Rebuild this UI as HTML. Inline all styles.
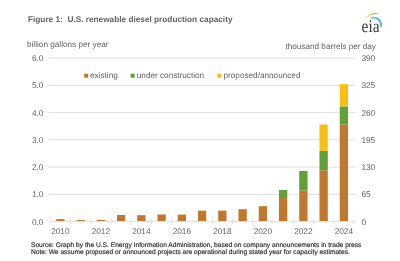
<!DOCTYPE html>
<html><head><meta charset="utf-8"><style>
html,body{margin:0;padding:0;background:#fff;width:400px;height:261px;overflow:hidden}
svg{display:block}
#w{will-change:transform;width:400px;height:261px}
text{font-family:"Liberation Sans",sans-serif;fill:#626262;text-rendering:geometricPrecision}
.n{font-size:8.3px}
.t{font-size:8.25px;font-weight:bold}
.a{font-size:8.2px}
.s{font-size:6.65px;fill:#333;stroke:#333;stroke-width:0.18px}
</style></head><body>
<div id="w"><svg width="400" height="261" viewBox="0 0 400 261" style="white-space:pre">
<rect width="400" height="261" fill="#fff"/>
<text x="28" y="21.7" class="t">Figure 1:&#160; U.S. renewable diesel production capacity</text>
<text x="27" y="47.2" class="a">billion gallons per year</text>
<text x="285.4" y="48.7" class="a">thousand barrels per day</text>
<line x1="48.3" y1="194.35" x2="355.5" y2="194.35" stroke="#DFDFDF" stroke-width="1"/>
<line x1="48.3" y1="167.10" x2="355.5" y2="167.10" stroke="#DFDFDF" stroke-width="1"/>
<line x1="48.3" y1="139.85" x2="355.5" y2="139.85" stroke="#DFDFDF" stroke-width="1"/>
<line x1="48.3" y1="112.60" x2="355.5" y2="112.60" stroke="#DFDFDF" stroke-width="1"/>
<line x1="48.3" y1="85.35" x2="355.5" y2="85.35" stroke="#DFDFDF" stroke-width="1"/>
<line x1="48.3" y1="58.10" x2="355.5" y2="58.10" stroke="#DFDFDF" stroke-width="1"/>
<rect x="56.23" y="219.10" width="8.3" height="2.20" fill="#C0772E"/>
<rect x="76.47" y="219.90" width="8.3" height="1.40" fill="#C0772E"/>
<rect x="96.72" y="219.90" width="8.3" height="1.40" fill="#C0772E"/>
<rect x="116.97" y="215.00" width="8.3" height="6.30" fill="#C0772E"/>
<rect x="137.22" y="215.20" width="8.3" height="6.10" fill="#C0772E"/>
<rect x="157.47" y="214.50" width="8.3" height="6.80" fill="#C0772E"/>
<rect x="177.72" y="214.60" width="8.3" height="6.70" fill="#C0772E"/>
<rect x="197.97" y="210.70" width="8.3" height="10.60" fill="#C0772E"/>
<rect x="218.22" y="210.60" width="8.3" height="10.70" fill="#C0772E"/>
<rect x="238.47" y="209.20" width="8.3" height="12.10" fill="#C0772E"/>
<rect x="258.73" y="206.20" width="8.3" height="15.10" fill="#C0772E"/>
<rect x="278.98" y="198.00" width="8.3" height="23.30" fill="#C0772E"/>
<rect x="278.98" y="190.00" width="8.3" height="8.00" fill="#60A037"/>
<rect x="299.23" y="190.50" width="8.3" height="30.80" fill="#C0772E"/>
<rect x="299.23" y="170.90" width="8.3" height="19.60" fill="#60A037"/>
<rect x="319.48" y="170.30" width="8.3" height="51.00" fill="#C0772E"/>
<rect x="319.48" y="151.00" width="8.3" height="19.30" fill="#60A037"/>
<rect x="319.48" y="124.50" width="8.3" height="26.50" fill="#F9C013"/>
<rect x="339.73" y="124.50" width="8.3" height="96.80" fill="#C0772E"/>
<rect x="339.73" y="106.40" width="8.3" height="18.10" fill="#60A037"/>
<rect x="339.73" y="84.20" width="8.3" height="22.20" fill="#F9C013"/>
<line x1="50.25" y1="221.6" x2="354.00" y2="221.6" stroke="#DFDFDF" stroke-width="1"/>
<line x1="50.25" y1="219.1" x2="50.25" y2="224.29999999999998" stroke="#DFDFDF" stroke-width="1"/>
<line x1="70.50" y1="219.1" x2="70.50" y2="224.29999999999998" stroke="#DFDFDF" stroke-width="1"/>
<line x1="90.75" y1="219.1" x2="90.75" y2="224.29999999999998" stroke="#DFDFDF" stroke-width="1"/>
<line x1="111.00" y1="219.1" x2="111.00" y2="224.29999999999998" stroke="#DFDFDF" stroke-width="1"/>
<line x1="131.25" y1="219.1" x2="131.25" y2="224.29999999999998" stroke="#DFDFDF" stroke-width="1"/>
<line x1="151.50" y1="219.1" x2="151.50" y2="224.29999999999998" stroke="#DFDFDF" stroke-width="1"/>
<line x1="171.75" y1="219.1" x2="171.75" y2="224.29999999999998" stroke="#DFDFDF" stroke-width="1"/>
<line x1="192.00" y1="219.1" x2="192.00" y2="224.29999999999998" stroke="#DFDFDF" stroke-width="1"/>
<line x1="212.25" y1="219.1" x2="212.25" y2="224.29999999999998" stroke="#DFDFDF" stroke-width="1"/>
<line x1="232.50" y1="219.1" x2="232.50" y2="224.29999999999998" stroke="#DFDFDF" stroke-width="1"/>
<line x1="252.75" y1="219.1" x2="252.75" y2="224.29999999999998" stroke="#DFDFDF" stroke-width="1"/>
<line x1="273.00" y1="219.1" x2="273.00" y2="224.29999999999998" stroke="#DFDFDF" stroke-width="1"/>
<line x1="293.25" y1="219.1" x2="293.25" y2="224.29999999999998" stroke="#DFDFDF" stroke-width="1"/>
<line x1="313.50" y1="219.1" x2="313.50" y2="224.29999999999998" stroke="#DFDFDF" stroke-width="1"/>
<line x1="333.75" y1="219.1" x2="333.75" y2="224.29999999999998" stroke="#DFDFDF" stroke-width="1"/>
<line x1="354.00" y1="219.1" x2="354.00" y2="224.29999999999998" stroke="#DFDFDF" stroke-width="1"/>
<text x="43.5" y="224.50" text-anchor="end" class="n">0.0</text>
<text x="43.5" y="197.25" text-anchor="end" class="n">1.0</text>
<text x="43.5" y="170.00" text-anchor="end" class="n">2.0</text>
<text x="43.5" y="142.75" text-anchor="end" class="n">3.0</text>
<text x="43.5" y="115.50" text-anchor="end" class="n">4.0</text>
<text x="43.5" y="88.25" text-anchor="end" class="n">5.0</text>
<text x="43.5" y="61.00" text-anchor="end" class="n">6.0</text>
<text x="361.4" y="224.50" class="n">0</text>
<text x="361.4" y="197.25" class="n">65</text>
<text x="361.4" y="170.00" class="n">130</text>
<text x="361.4" y="142.75" class="n">195</text>
<text x="361.4" y="115.50" class="n">260</text>
<text x="361.4" y="88.25" class="n">325</text>
<text x="361.4" y="61.00" class="n">390</text>
<text x="60.38" y="234.3" text-anchor="middle" class="n">2010</text>
<text x="100.88" y="234.3" text-anchor="middle" class="n">2012</text>
<text x="141.38" y="234.3" text-anchor="middle" class="n">2014</text>
<text x="181.88" y="234.3" text-anchor="middle" class="n">2016</text>
<text x="222.38" y="234.3" text-anchor="middle" class="n">2018</text>
<text x="262.88" y="234.3" text-anchor="middle" class="n">2020</text>
<text x="303.38" y="234.3" text-anchor="middle" class="n">2022</text>
<text x="343.88" y="234.3" text-anchor="middle" class="n">2024</text>
<rect x="84.2" y="73.7" width="4" height="4" fill="#C0772E"/>
<text x="90" y="78" class="a">existing</text>
<rect x="130.6" y="73.7" width="4" height="4" fill="#60A037"/>
<text x="136.8" y="78" class="a">under construction</text>
<rect x="217.2" y="73.7" width="4" height="4" fill="#F9C013"/>
<text x="223.5" y="78" class="a">proposed/announced</text>
<text x="31" y="246.8" class="s">Source: Graph by the U.S. Energy Information Administration, based on company announcements in trade press</text>
<text x="31" y="254.3" class="s">Note: We assume proposed or announced projects are operational during stated year for capacity estimates.</text>
<defs><linearGradient id="gy" x1="0" y1="0" x2="1" y2="0"><stop offset="0" stop-color="#F4EBB0"/><stop offset="0.4" stop-color="#E2D878"/><stop offset="1" stop-color="#76A850"/></linearGradient>
<linearGradient id="gb" x1="0" y1="0" x2="1" y2="1"><stop offset="0" stop-color="#8CC6E6"/><stop offset="0.5" stop-color="#4FA3D6"/><stop offset="1" stop-color="#6AB3DC"/></linearGradient></defs>
<g>
<path d="M363.6 20.2 A13.8 13.8 0 0 1 379.2 13.2 A28 28 0 0 0 363.6 20.2 Z" fill="url(#gy)"/>
<path d="M371.2 18.1 A7.6 7.6 0 0 1 380.9 27" stroke="url(#gb)" stroke-width="1.8" fill="none"/>
<text x="0" y="0" transform="translate(361.6 31.5) scale(0.9 1.05)" style="font-family:'Liberation Serif',serif;font-size:17px;fill:#3A3A3A">eia</text>
</g>
</svg></div>
</body></html>
